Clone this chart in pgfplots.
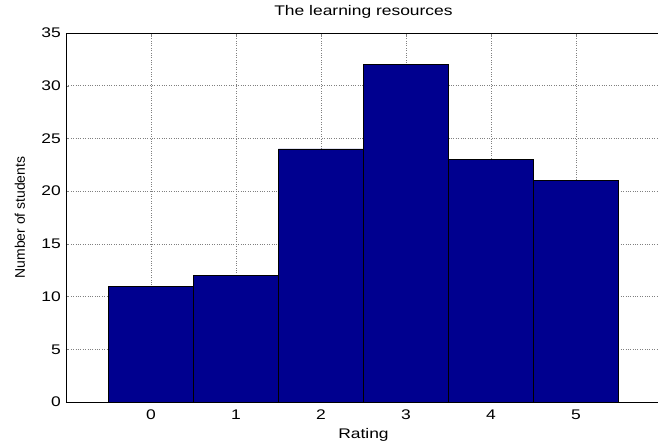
\documentclass[border=0pt]{standalone}
\usepackage{pgfplots}
\pgfplotsset{compat=1.18}
\usepackage{fontspec}
\setmainfont{Liberation Sans}
\definecolor{barblue}{RGB}{0,0,143}
\begin{document}
\begin{tikzpicture}
% the reference is cut off at the right edge, just before x=6
\useasboundingbox (-66bp,-42bp) rectangle (592bp,402bp);
\begin{axis}[
  scale only axis,
  width=595bp, height=369bp,
  xmin=-1, xmax=6, ymin=0, ymax=35,
  xtick={0,1,2,3,4,5},
  ytick={0,5,...,35},
  tick align=inside,
  major tick length=3bp,
  axis line style={line width=0.8bp},
  grid=major,
  major grid style={dotted, black!50, line width=0.6bp},
  font=\fontsize{14}{16}\selectfont,
  /pgf/number format/assume math mode=true,
  xticklabel style={inner sep=0pt, anchor=north, yshift=-8bp, xscale=1.25},
  yticklabel style={inner sep=0pt, anchor=east, xshift=-5bp, xscale=1.25},
  title={The learning resources},
  title style={at={(axis description cs:0.5,1)}, anchor=south, inner sep=0pt, yshift=8bp, xscale=1.25},
  xlabel={Rating},
  xlabel style={at={(axis description cs:0.5,0)}, anchor=north, inner sep=0pt, yshift=-26bp, xscale=1.25},
  ylabel={Number of students},
  ylabel style={at={(axis description cs:-0.0773,0.5)}, anchor=center, inner sep=0pt},
]
\addplot[ybar, bar width=1, fill=barblue, draw=black, line width=0.6bp]
  coordinates {(0,11) (1,12) (2,24) (3,32) (4,23) (5,21)};
\end{axis}
\end{tikzpicture}
\end{document}
